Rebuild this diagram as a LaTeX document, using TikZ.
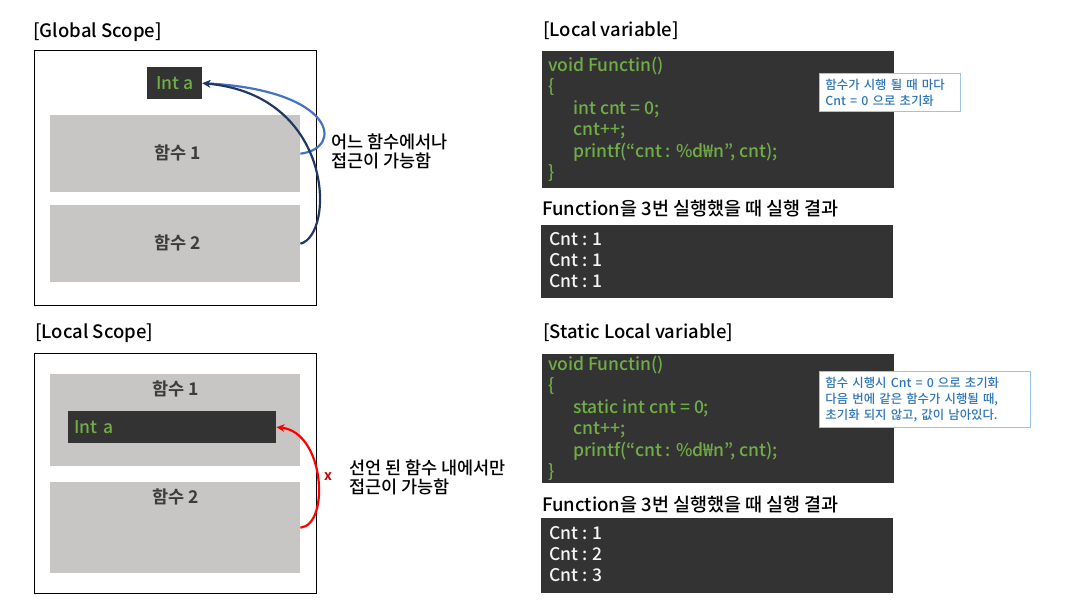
\documentclass[tikz,border=0pt]{standalone}
\usepackage{fontspec}
\setmainfont{Noto Sans CJK KR}[UprightFont=* Medium,BoldFont=* Bold]
\usetikzlibrary{arrows.meta,positioning}

\begin{document}
\begin{tikzpicture}[x=1pt,y=-1pt,
  title/.style={anchor=west,inner sep=0pt,font=\fontsize{18.5}{20}\selectfont},
  scopebox/.style={draw=black,line width=0.9pt,anchor=north west,minimum width=282,inner sep=0pt},
  funbox/.style={fill=\gry,anchor=north west,minimum width=250,inner sep=0pt},
  funtext/.style={inner sep=0pt,text=\fgr,font=\fontsize{17.5}{20}\selectfont\bfseries},
  varbox/.style={fill=\dark,text=\grn,anchor=north west,minimum height=32,inner sep=0pt,font=\fontsize{17.5}{20}\selectfont},
  darkbox/.style={fill=\dark,anchor=north west,minimum width=352,inner sep=0pt},
  codeline/.style={anchor=west,inner sep=0pt,text height=12pt,text depth=4pt,text=\grn,font=\fontsize{17.5}{20}\selectfont},
  outline/.style={anchor=west,inner sep=0pt,text height=12pt,text depth=4pt,text=black!4,font=\fontsize{17.5}{20}\selectfont},
  side/.style={anchor=west,inner sep=0pt,align=left,font=\fontsize{17.5}{19}\selectfont},
  note/.style={draw=\nbd,fill=white,text=\nbl,line width=0.9pt,anchor=north west,align=left,
    inner xsep=6pt,inner ysep=0pt,font=\fontsize{12.4}{16}\selectfont},
  link/.style={line width=2.2pt,-{Stealth[length=8pt,width=7.5pt]}}]
  \def\dark{rgb,255:red,51;green,51;blue,51}
  \def\gry{rgb,255:red,199;green,198;blue,196}
  \def\fgr{rgb,255:red,60;green,60;blue,60}
  \def\grn{rgb,255:red,112;green,173;blue,71}
  \def\nbd{rgb,255:red,157;green,195;blue,230}
  \def\nbl{rgb,255:red,46;green,117;blue,182}
  \def\lblue{rgb,255:red,68;green,114;blue,196}
  \def\navy{rgb,255:red,32;green,56;blue,100}
  \def\dred{rgb,255:red,192;green,0;blue,0}
  \useasboundingbox (0,0) rectangle (1077,606);

  % global scope
  \node[title] (gtitle) at (33,32) {[Global Scope]};
  \node[scopebox,minimum height=255] (gscope) at (34,50) {};
  \node[varbox,minimum width=55] (gvar) at (147,67) {Int a};
  \node[funbox,minimum height=77] (gf1) at (50,115) {};
  \node[funbox,minimum height=77] (gf2) at (50,205) {};
  \node[funtext] (gf1t) at (178,153) {함수 1};
  \node[funtext] (gf2t) at (178,243) {함수 2};
  \draw[link,draw=\lblue] (gf1.east) .. controls (345,148) and (335,90) .. (gvar.east);
  \draw[link,draw=\navy] (gf2.east) .. controls (335,235) and (335,95) .. (gvar.east);
  \node[side] (gside) at (331,151) {어느 함수에서나\\접근이 가능함};

  % local scope
  \node[title] (ltitle) at (35,333) {[Local Scope]};
  \node[scopebox,minimum height=240] (lscope) at (34,353) {};
  \node[funbox,minimum height=92] (lf1) at (50,374) {};
  \node[funbox,minimum height=91] (lf2) at (50,482) {};
  \node[funtext] (lf1t) at (176,389) {함수 1};
  \node[funtext] (lf2t) at (176,497) {함수 2};
  \node[varbox,minimum width=208,text width=196,align=left] (lvar) at (68,411) {Int a};
  \draw[link,draw=red] (lf2.east) .. controls (330,525) and (325,432) .. (lvar.east);
  \node[inner sep=0pt,text=\dred,font=\fontsize{14}{15}\selectfont\bfseries] (xmark) at (328,477) {x};
  \node[side] (lside) at (349,477) {선언 된 함수 내에서만\\접근이 가능함};

  % local variable
  \node[title] (vtitle) at (543,31) {[Local variable]};
  \node[darkbox,minimum height=137] (vcode) at (542,51) {};
  \foreach \t [count=\i] in {void Functin(),\{,\hspace*{25pt}int cnt = 0;,\hspace*{25pt}cnt++;,
      {\hspace*{25pt}printf(“cnt : \%d₩n”, cnt);},\}}
    \node[codeline] (vc\i) at (548,67+21.5*\i-21.5) {\t};
  \node[note,minimum width=141,minimum height=38,text width=129] (vnote) at (819,73)
    {함수가 시행 될 때 마다\\Cnt = 0 으로 초기화};
  \node[title] (vrun) at (542,209) {Function을 3번 실행했을 때 실행 결과};
  \node[darkbox,minimum height=73] (vout) at (541,225) {};
  \foreach \n [count=\i] in {1,1,1}
    \node[outline] (vo\i) at (549,241+21*\i-21) {Cnt : \n};

  % static local variable
  \node[title] (stitle) at (543,333) {[Static Local variable]};
  \node[darkbox,minimum height=129] (scode) at (542,354) {};
  \foreach \t [count=\i] in {void Functin(),\{,\hspace*{25pt}static int cnt = 0;,\hspace*{25pt}cnt++;,
      {\hspace*{25pt}printf(“cnt : \%d₩n”, cnt);},\}}
    \node[codeline] (sc\i) at (548,366+21.5*\i-21.5) {\t};
  \node[note,minimum width=211,minimum height=56,text width=199] (snote) at (819,371)
    {함수 시행시 Cnt = 0 으로 초기화\\다음 번에 같은 함수가 시행될 때,\\초기화 되지 않고, 값이 남아있다.};
  \node[title] (srun) at (542,505) {Function을 3번 실행했을 때 실행 결과};
  \node[darkbox,minimum height=75] (sout) at (541,518) {};
  \foreach \n [count=\i] in {1,2,3}
    \node[outline] (so\i) at (549,535+21*\i-21) {Cnt : \n};
\end{tikzpicture}
\end{document}
